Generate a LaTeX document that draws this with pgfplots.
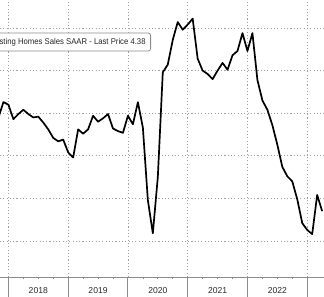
\documentclass[border=0pt]{standalone}
\usepackage{pgfplots}
\pgfplotsset{compat=1.18}
\usepackage{fontspec}
\setmainfont{Liberation Sans}
\definecolor{gridgray}{HTML}{A0A0A0}
\definecolor{axgray}{HTML}{8C8C8C}
\definecolor{txtgray}{HTML}{2A2A2A}
\begin{document}
\begin{tikzpicture}
\useasboundingbox (0,0) rectangle (324pt,297pt);
\clip (0,0) rectangle (324pt,297pt);
\begin{axis}[
  at={(0pt,20pt)}, anchor=south west,
  scale only axis, width=324pt, height=277pt,
  xmin=-1.69, xmax=63.37,
  ymin=3.5775, ymax=6.8286,
  axis x line*=bottom, axis y line*=left,
  x axis line style={axgray, line width=0.9pt},
  y axis line style={draw=none},
  xtick={0,12,24,36,48,60}, xticklabels={},
  minor x tick num=3,
  tick align=outside,
  major tick length=20pt, minor tick length=2pt,
  major x tick style={axgray, line width=0.9pt},
  minor x tick style={axgray, line width=0.7pt},
  extra x ticks={6,18,30,42,54},
  extra x tick labels={2018,2019,2020,2021,2022},
  extra x tick style={major tick length=0pt, grid=none, tick style={draw=none},
    xticklabel style={anchor=center, yshift=-14pt}},
  xticklabel style={font=\fontsize{8.6}{9}\selectfont, text=txtgray},
  ytick={4,4.5,5,5.5,6,6.5}, yticklabels={},
  y tick style={draw=none},
  xmajorgrids, ymajorgrids,
  grid style={gridgray, line width=0.65pt, dash pattern=on 1.1pt off 2.2pt},
  clip=true,
]
\addplot[black, line width=1.7pt, line join=round] coordinates {
(-2,5.45) (-1,5.63) (0,5.60) (1,5.43) (2,5.49) (3,5.54) (4,5.49) (5,5.45)
(6,5.46) (7,5.39) (8,5.31) (9,5.21) (10,5.17) (11,5.19) (12,5.04) (13,4.98)
(14,5.31) (15,5.26) (16,5.31) (17,5.47) (18,5.40) (19,5.44) (20,5.49) (21,5.32)
(22,5.29) (23,5.27) (24,5.47) (25,5.37) (26,5.63) (27,5.33) (28,4.48) (29,4.09)
(30,4.75) (31,5.98) (32,6.07) (33,6.36) (34,6.57) (35,6.48) (36,6.54) (37,6.61)
(38,6.14) (39,6.00) (40,5.96) (41,5.90) (42,6.00) (43,6.09) (44,6.01) (45,6.18)
(46,6.23) (47,6.44) (48,6.23) (49,6.44) (50,5.89) (51,5.65) (52,5.54) (53,5.36)
(54,5.13) (55,4.87) (56,4.76) (57,4.70) (58,4.49) (59,4.21) (60,4.13) (61,4.08)
(62,4.54) (63,4.35)
};
\end{axis}
\node[draw=axgray, line width=0.8pt, fill=white, rounded corners=2.5pt,
      anchor=east, inner xsep=5pt, minimum height=18pt, text=black!85]
  at (151pt,255pt) {\scalebox{0.92}[1]{\fontsize{8.4}{9}\selectfont US Existing Homes Sales SAAR - Last Price 4.38}};
\end{tikzpicture}
\end{document}
